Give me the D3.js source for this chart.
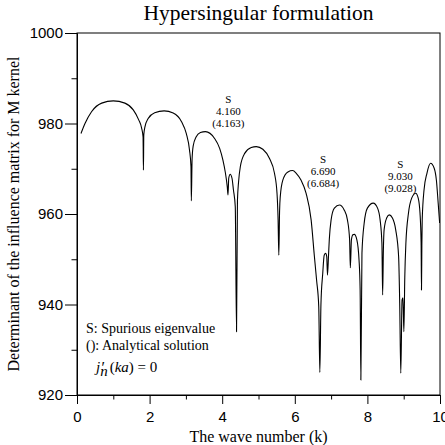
<!DOCTYPE html>
<html>
<head>
<meta charset="utf-8">
<script src="https://cdn.jsdelivr.net/npm/d3@7"></script>
<style>
  html, body { margin: 0; padding: 0; background: #fff; }
  svg text { fill: #000; }
  .serif { font-family: "Liberation Serif", "Times New Roman", serif; }
  .axis text { font-family: "Liberation Sans", Arial, sans-serif; font-size: 15px; }
  .axis path, .axis line { stroke: #000; stroke-width: 1; }
</style>
</head>
<body>
<div id="chart"></div>
<script>
// Déterminant de la matrice d'influence (noyau M), formulation hypersingulière

// Valeurs : nombre d'onde k et déterminant
const waveNumber = [
  0.11, 0.22, 0.40, 0.68, 1.00, 1.32, 1.55, 1.70, 1.78, 1.82,
  1.83, 1.84, 1.87, 1.96, 2.14, 2.40, 2.65, 2.88, 3.01, 3.10,
  3.14, 3.15, 3.17, 3.20, 3.28, 3.40, 3.54, 3.79, 3.93, 4.02,
  4.09, 4.14, 4.16, 4.18, 4.22, 4.27, 4.31, 4.36, 4.395, 4.42,
  4.45, 4.50, 4.62, 4.80, 4.94, 5.12, 5.30, 5.44, 5.51, 5.54,
  5.56, 5.58, 5.60, 5.67, 5.81, 5.94, 6.04, 6.17, 6.31, 6.45,
  6.54, 6.60, 6.66, 6.69, 6.72, 6.77, 6.81, 6.85, 6.88, 6.90,
  6.93, 6.95, 7.00, 7.09, 7.23, 7.36, 7.45, 7.51, 7.53, 7.56,
  7.60, 7.64, 7.71, 7.77, 7.80, 7.82, 7.85, 7.91, 8.00, 8.16,
  8.28, 8.35, 8.40, 8.42, 8.44, 8.46, 8.53, 8.60, 8.69, 8.78,
  8.86, 8.89, 8.92, 8.955, 8.98, 9.005, 9.03, 9.06, 9.13, 9.22,
  9.33, 9.40, 9.45, 9.48, 9.49, 9.50, 9.51, 9.56, 9.64, 9.74,
  9.84, 9.90, 9.95, 9.99
];
const determinant = [
  977.8, 980.0, 982.6, 984.5, 985.0, 984.5, 983.0, 980.8, 979.0, 977.0,
  969.7, 977.5, 979.2, 981.1, 982.4, 982.8, 982.3, 980.4, 977.8, 974.1,
  970.5, 962.9, 972.0, 975.0, 977.0, 978.0, 978.2, 976.7, 974.5, 971.9,
  969.0, 966.0, 964.2, 967.9, 968.8, 967.9, 965.3, 961.6, 934.0, 963.0,
  967.0, 970.5, 973.4, 974.7, 974.9, 974.3, 972.3, 969.0, 964.6, 958.7,
  950.9, 960.5, 963.9, 967.5, 969.3, 969.6, 969.0, 967.5, 964.6, 958.7,
  950.6, 945.4, 939.5, 925.0, 940.0, 946.9, 950.9, 951.3, 950.6, 946.5,
  951.0, 954.3, 958.7, 961.3, 962.0, 960.9, 958.7, 954.3, 948.1, 954.3,
  955.4, 955.5, 954.3, 949.8, 943.2, 923.3, 951.3, 957.9, 961.3, 962.4,
  961.3, 958.7, 953.5, 942.1, 952.0, 956.5, 959.1, 959.8, 959.1, 956.5,
  950.6, 940.3, 924.8, 941.0, 941.5, 934.0, 946.0, 953.5, 960.1, 963.5,
  964.6, 963.5, 960.1, 953.5, 943.2, 953.0, 958.7, 965.3, 969.0, 971.2,
  970.1, 967.5, 962.4, 958.0
];

// Graduations
const xMajorTicks = [0, 2, 4, 6, 8, 10];
const xMinorTicks = [1, 3, 5, 7, 9];
const yMajorTicks = [920, 940, 960, 980, 1000];
const yMinorTicks = [930, 950, 970, 990];

// Annotations des valeurs propres parasites : k, déterminant, valeur numérique, valeur analytique
const spuriousK = [4.17, 6.78, 8.91];
const spuriousDet = [984.5, 971.2, 970.1];
const spuriousNum = ["4.160", "6.690", "9.030"];
const spuriousExact = ["(4.163)", "(6.684)", "(9.028)"];

function createChart() {
    const margin = { top: 33, right: 5, bottom: 50, left: 77 };
    const fullW = 445, fullH = 445;
    const width = fullW - margin.left - margin.right;   // 363
    const height = fullH - margin.top - margin.bottom;  // 362

    const svg = d3.select("#chart")
        .append("svg")
        .attr("width", fullW)
        .attr("height", fullH);

    const g = svg.append("g")
        .attr("transform", `translate(${margin.left},${margin.top})`);

    // Échelles
    const x = d3.scaleLinear().domain([0, 10]).range([0, width]);
    const y = d3.scaleLinear().domain([920, 1000]).range([height, 0]);

    // Clip pour la courbe
    svg.append("defs").append("clipPath")
        .attr("id", "plot-clip")
        .append("rect")
        .attr("width", width)
        .attr("height", height);

    // Axes secondaires (petites graduations)
    g.append("g")
        .attr("class", "axis")
        .attr("transform", `translate(0,${height})`)
        .call(d3.axisBottom(x).tickValues(xMinorTicks).tickSize(4.5).tickSizeOuter(0).tickFormat(""));

    g.append("g")
        .attr("class", "axis")
        .call(d3.axisLeft(y).tickValues(yMinorTicks).tickSize(5.5).tickSizeOuter(0).tickFormat(""));

    // Axes principaux
    g.append("g")
        .attr("class", "axis")
        .attr("transform", `translate(0,${height})`)
        .call(d3.axisBottom(x).tickValues(xMajorTicks).tickSize(9).tickPadding(7).tickSizeOuter(0).tickFormat(d3.format("d")));

    g.append("g")
        .attr("class", "axis")
        .call(d3.axisLeft(y).tickValues(yMajorTicks).tickSize(12).tickPadding(2).tickSizeOuter(0).tickFormat(d3.format("d")));

    // Cadre
    g.append("rect")
        .attr("width", width)
        .attr("height", height)
        .attr("fill", "none")
        .attr("stroke", "#000")
        .attr("stroke-width", 1);

    // Courbe
    const points = waveNumber.map((k, i) => [k, determinant[i]]);
    const line = d3.line()
        .x(d => x(d[0]))
        .y(d => y(d[1]))
        .curve(d3.curveMonotoneX);

    g.append("path")
        .datum(points)
        .attr("clip-path", "url(#plot-clip)")
        .attr("fill", "none")
        .attr("stroke", "#000")
        .attr("stroke-width", 1.1)
        .attr("d", line);

    // Annotations S
    spuriousK.forEach((k, i) => {
        const t = g.append("text")
            .attr("class", "serif")
            .attr("text-anchor", "middle")
            .style("font-size", "11px")
            .attr("x", x(k))
            .attr("y", y(spuriousDet[i]));
        t.append("tspan").attr("x", x(k)).text("S");
        t.append("tspan").attr("x", x(k)).attr("dy", 12).text(spuriousNum[i]);
        t.append("tspan").attr("x", x(k)).attr("dy", 12).text(spuriousExact[i]);
    });

    // Légende
    const legend = g.append("g")
        .attr("class", "serif")
        .style("font-size", "14px");

    legend.append("text").attr("x", 9).attr("y", 300).text("S: Spurious eigenvalue");
    legend.append("text").attr("x", 9).attr("y", 317).text("(): Analytical solution");

    // j'_n(ka) = 0 : le prime est placé à part, au-dessus de l'indice
    const eqX = 19, eqY = 339;
    const eq = legend.append("text").attr("x", eqX).attr("y", eqY).style("font-size", "15px");
    eq.append("tspan").style("font-style", "italic").text("j");
    eq.append("tspan").style("font-style", "italic").attr("dy", 4).text("n");
    eq.append("tspan").attr("dy", -4).attr("dx", 2).text("(");
    eq.append("tspan").style("font-style", "italic").text("ka");
    eq.append("tspan").text(") = 0");

    legend.append("text")
        .attr("x", eqX + 4.5)
        .attr("y", eqY + 1)
        .style("font-size", "16px")
        .style("font-style", "italic")
        .text("′");

    // Titres
    svg.append("text")
        .attr("class", "serif")
        .attr("x", margin.left + width / 2)
        .attr("y", 20)
        .attr("text-anchor", "middle")
        .style("font-size", "21.5px")
        .text("Hypersingular formulation");

    svg.append("text")
        .attr("class", "serif")
        .attr("x", margin.left + width / 2)
        .attr("y", 442)
        .attr("text-anchor", "middle")
        .style("font-size", "16px")
        .text("The wave number (k)");

    svg.append("text")
        .attr("class", "serif")
        .attr("transform", `translate(19,${margin.top + height / 2}) rotate(-90)`)
        .attr("text-anchor", "middle")
        .style("font-size", "16px")
        .text("Determinant of the influence matrix for M kernel");
}

createChart();
</script>
</body>
</html>
